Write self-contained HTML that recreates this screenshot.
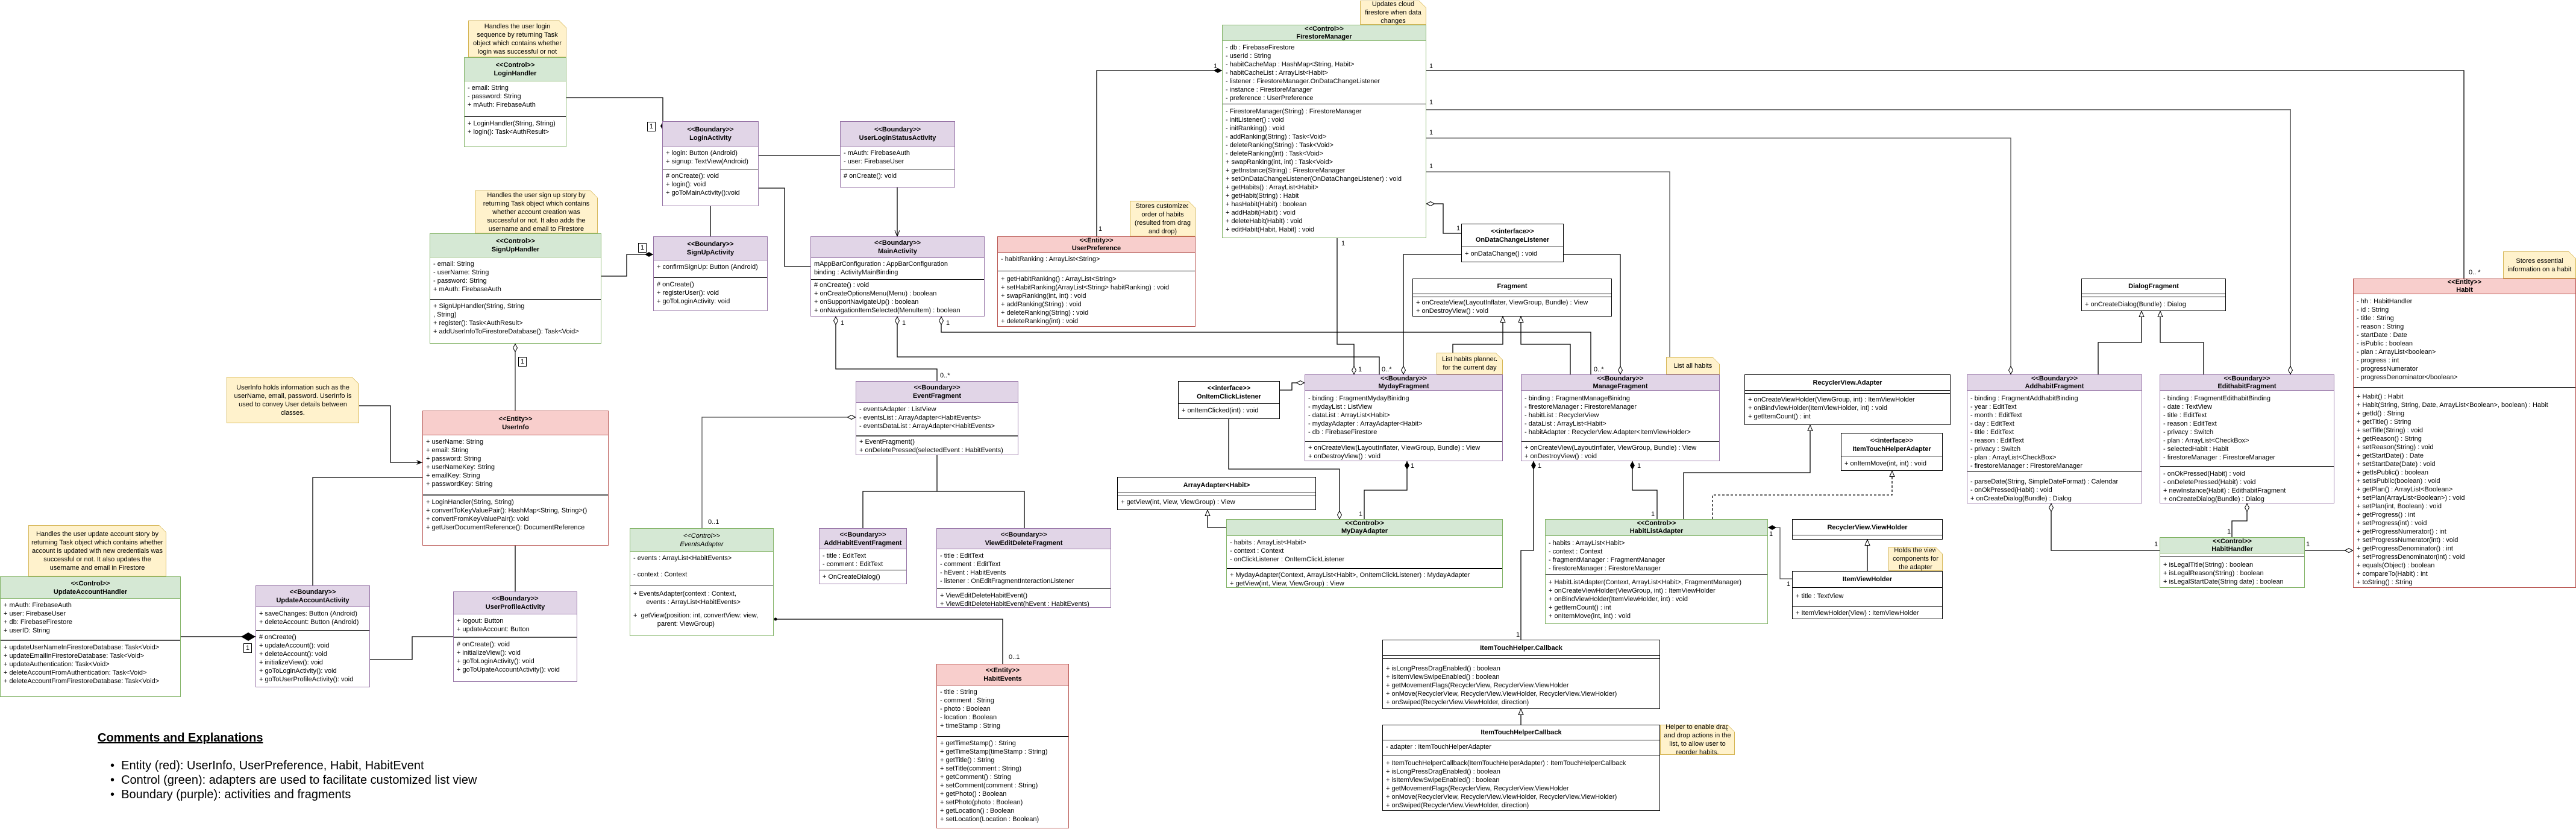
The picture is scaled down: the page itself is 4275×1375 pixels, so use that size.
<!DOCTYPE html>
<html><head><meta charset="utf-8">
<style>
html,body{margin:0;padding:0;background:#fff;}
#c{position:relative;width:4275px;height:1375px;overflow:hidden;font-family:"Liberation Sans",Arial,sans-serif;}
svg{position:absolute;left:0;top:0;}
.b{position:absolute;box-sizing:border-box;border:1px solid #000;background:#fff;font-size:11px;line-height:14px;overflow:hidden;display:flex;flex-direction:column;}
.h{box-sizing:border-box;text-align:center;font-weight:bold;display:flex;flex-direction:column;justify-content:center;border-bottom:1px solid #000;flex:none;line-height:14px;}
.s{box-sizing:border-box;padding:4px 5px 0;white-space:nowrap;flex:none;}
.s+.s{border-top:1px solid #000;}
.f{flex:1;}
.d{height:4px;padding:0;}
.P{border-color:#9673a6}.P .h{background:#e1d5e7;border-color:#9673a6}
.G{border-color:#82b366}.G .h{background:#d5e8d4;border-color:#82b366}
.R{border-color:#b85450}.R .h{background:#f8cecc;border-color:#b85450}
.n{position:absolute;box-sizing:border-box;background:#fff2cc;border:1px solid #d6b656;font-size:11px;line-height:14px;text-align:center;display:flex;align-items:center;justify-content:center;padding:0 2px;}
.n:after{content:"";position:absolute;right:-1px;top:-1px;width:12px;height:12px;background:linear-gradient(225deg,#fff 50%,#d6b656 50%,#fff2cc 56%);}
.l{position:absolute;font-size:11px;line-height:12px;}
.bx{position:absolute;font-size:11px;line-height:14px;border:1px solid #000;background:#fff;padding:0 3px;}
.i{font-style:italic}
</style></head><body><div id="c">
<svg width="4275" height="1375" viewBox="0 0 4275 1375">
<defs>
<marker id="df" markerUnits="userSpaceOnUse" markerWidth="16" markerHeight="10" refX="14" refY="4" orient="auto-start-reverse"><path d="M0,4 L7,0 L14,4 L7,8 Z" fill="#000"/></marker>
<marker id="dh" markerUnits="userSpaceOnUse" markerWidth="16" markerHeight="10" refX="14" refY="4" orient="auto-start-reverse"><path d="M0.5,4 L7,0.5 L13.5,4 L7,7.5 Z" fill="#fff" stroke="#000"/></marker>
<marker id="db" markerUnits="userSpaceOnUse" markerWidth="26" markerHeight="16" refX="24" refY="7" orient="auto-start-reverse"><path d="M0,7 L12,0 L24,7 L12,14 Z" fill="#000"/></marker>
<marker id="tr" markerUnits="userSpaceOnUse" markerWidth="12" markerHeight="10" refX="10" refY="4.5" orient="auto-start-reverse"><path d="M0.5,0.5 L10,4.5 L0.5,8.5 Z" fill="#fff" stroke="#000"/></marker>
<marker id="ar" markerUnits="userSpaceOnUse" markerWidth="12" markerHeight="10" refX="10" refY="4" orient="auto-start-reverse"><path d="M0,0 L10,4 L0,8 L3,4 Z" fill="#000"/></marker>
<marker id="op" markerUnits="userSpaceOnUse" markerWidth="12" markerHeight="10" refX="10" refY="4" orient="auto-start-reverse"><path d="M0,0 L10,4 L0,8" fill="none" stroke="#000"/></marker>
<marker id="dt" markerUnits="userSpaceOnUse" markerWidth="8" markerHeight="8" refX="3" refY="3" orient="auto"><circle cx="3" cy="3" r="2.5" fill="#000"/></marker>
</defs>
<g fill="none" stroke="#000" stroke-width="1.3">
<polyline points="940,162 1100,162 1100,216" marker-end="url(#df)"/>
<polyline points="1259,258 1394,258"/>
<polyline points="1259,312 1302,312 1302,442 1345,442"/>
<polyline points="1179,342 1179,392"/>
<polyline points="1489,311 1489,392" marker-end="url(#op)"/>
<polyline points="998,458 1040,458 1040,422 1084,422" marker-end="url(#df)"/>
<polyline points="855,570 855,681" marker-start="url(#dh)" stroke-width="1"/>
<polyline points="596,673 648,673 648,767 701,767" marker-end="url(#ar)"/>
<polyline points="701,792 519,792 519,971"/>
<polyline points="855,905 855,981"/>
<polyline points="300,1056 424,1056" marker-end="url(#db)" stroke="#555" stroke-width="2"/>
<polyline points="614,1094 684,1094 684,1056 752,1056"/>
<polyline points="1820,392 1820,117 2028,117" marker-end="url(#df)"/>
<polyline points="1387,525 1387,612 1555,612 1555,632" marker-start="url(#dh)"/>
<polyline points="1489,525 1489,592 2289,592 2289,621" marker-start="url(#dh)"/>
<polyline points="1562,525 1562,551 2640,551 2640,621" marker-start="url(#dh)"/>
<polyline points="1420,692 1165,692 1165,876" marker-start="url(#dh)" stroke="#555"/>
<polyline points="1555,755 1555,815"/>
<polyline points="1432,876 1432,815 1700,815 1700,876"/>
<polyline points="1287,1027 1664,1027 1664,1101" marker-start="url(#dt)"/>
<polyline points="2039,695 2039,778 2223,778 2223,861" marker-end="url(#dh)"/>
<polyline points="2124,647 2144,647 2144,635 2165,635" marker-end="url(#dh)"/>
<polyline points="2035,875 2004,875 2004,846" marker-end="url(#tr)"/>
<polyline points="2367,117 4089,117 4089,462"/>
<polyline points="2367,182 3801,182 3801,621" marker-end="url(#dh)" stroke="#777" stroke-width="2"/>
<polyline points="2367,229 3337,229 3337,621" marker-end="url(#dh)" stroke="#555"/>
<polyline points="2367,285 2771,285 2771,592" stroke="#555"/>
<polyline points="2367,338 2395,338 2395,387 2425,387" marker-start="url(#dh)"/>
<polyline points="2219,395 2219,571 2247,571 2247,621" marker-end="url(#dh)"/>
<polyline points="2425,422 2329,422 2329,621" marker-end="url(#dh)"/>
<polyline points="2595,422 2689,422 2689,621" marker-end="url(#dh)"/>
<polyline points="2411,621 2411,571 2494,571 2494,525" marker-end="url(#tr)"/>
<polyline points="2606,621 2606,571 2524,571 2524,525" marker-end="url(#tr)"/>
<polyline points="2335,765 2335,813 2264,813 2264,861" marker-start="url(#df)"/>
<polyline points="2545,765 2545,913 2524,913 2524,1061" marker-start="url(#df)"/>
<polyline points="2709,765 2709,813 2750,813 2750,861" marker-start="url(#df)"/>
<polyline points="2794,861 2794,784 3004,784 3004,705" marker-end="url(#tr)"/>
<polyline points="2842,861 2842,821 3140,821 3140,781" marker-end="url(#tr)" stroke-dasharray="4,3"/>
<polyline points="2934,875 2954,875 2954,960 2974,960" marker-start="url(#df)" stroke="#555"/>
<polyline points="3099,947 3099,895" marker-end="url(#tr)"/>
<polyline points="2524,1202 2524,1176" marker-end="url(#tr)"/>
<polyline points="3482,621 3482,568 3554,568 3554,516" marker-end="url(#tr)"/>
<polyline points="3657,621 3657,568 3585,568 3585,516" marker-end="url(#tr)"/>
<polyline points="3404,835 3404,913 3584,913" marker-start="url(#dh)"/>
<polyline points="3729,835 3729,864 3704,864 3704,891" marker-start="url(#dh)"/>
<polyline points="3825,913 3905,913" marker-end="url(#dh)"/>
</g>
</svg>

<!-- labels -->
<div class="bx" style="left:1074px;top:202px">1</div>
<div class="bx" style="left:1059px;top:403px">1</div>
<div class="bx" style="left:860px;top:592px">1</div>
<div class="bx" style="left:404px;top:1067px">1</div>
<div class="l" style="left:1823px;top:374px">1</div>
<div class="l" style="left:2014px;top:104px">1</div>
<div class="l" style="left:1395px;top:530px">1</div>
<div class="l" style="left:1497px;top:530px">1</div>
<div class="l" style="left:1570px;top:530px">1</div>
<div class="l" style="left:1560px;top:617px">0..*</div>
<div class="l" style="left:1175px;top:860px">0..1</div>
<div class="l" style="left:1674px;top:1084px">0..1</div>
<div class="l" style="left:2372px;top:104px">1</div>
<div class="l" style="left:2372px;top:164px">1</div>
<div class="l" style="left:2372px;top:214px">1</div>
<div class="l" style="left:2372px;top:270px">1</div>
<div class="l" style="left:2417px;top:373px">1</div>
<div class="l" style="left:2226px;top:398px">1</div>
<div class="l" style="left:2254px;top:607px">1</div>
<div class="l" style="left:2293px;top:607px">0..*</div>
<div class="l" style="left:2645px;top:607px">0..*</div>
<div class="l" style="left:4097px;top:446px">0.. *</div>
<div class="l" style="left:2341px;top:767px">1</div>
<div class="l" style="left:2255px;top:847px">1</div>
<div class="l" style="left:2552px;top:767px">1</div>
<div class="l" style="left:2516px;top:1047px">1</div>
<div class="l" style="left:2717px;top:767px">1</div>
<div class="l" style="left:2740px;top:847px">1</div>
<div class="l" style="left:2936px;top:880px">1</div>
<div class="l" style="left:2965px;top:963px">1</div>
<div class="l" style="left:3575px;top:897px">1</div>
<div class="l" style="left:3827px;top:897px">1</div>
<div class="l" style="left:3696px;top:876px">1</div>

<!-- notes -->
<div class="n" style="left:777px;top:34px;width:163px;height:61px">Handles the user login sequence by returning Task object which contains whether login was successful or not</div>
<div class="n" style="left:788px;top:316px;width:204px;height:71px">Handles the user sign up story by returning Task object which contains whether account creation was successful or not. It also adds the username and email to Firestore</div>
<div class="n" style="left:376px;top:625px;width:220px;height:77px">UserInfo holds information such as the userName, email, password. UserInfo is used to convey User details between classes.</div>
<div class="n" style="left:47px;top:871px;width:229px;height:85px">Handles the user update account story by returning Task object which contains whether account is updated with new credentials was successful or not. It also updates the username and email in Firestore</div>
<div class="n" style="left:1875px;top:333px;width:109px;height:59px">Stores customized order of habits (resulted from drag and drop)</div>
<div class="n" style="left:2257px;top:1px;width:110px;height:40px">Updates cloud firestore when data changes</div>
<div class="n" style="left:2384px;top:585px;width:110px;height:36px">List habits planned for the current day</div>
<div class="n" style="left:2765px;top:592px;width:89px;height:29px">List all habits</div>
<div class="n" style="left:3134px;top:907px;width:90px;height:40px">Holds the view components for the adapter</div>
<div class="n" style="left:2755px;top:1202px;width:124px;height:50px">Helper to enable drag and drop actions in the list, to allow user to reorder habits.</div>
<div class="n" style="left:4154px;top:417px;width:121px;height:45px">Stores essential information on a habit</div>

<!-- boxes -->
<div class="b G" style="left:770px;top:95px;width:170px;height:149px"><div class="h" style="height:39px">&lt;&lt;Control&gt;&gt;<br>LoginHandler</div><div class="s" style="height:58px">- email: String<br>- password: String<br>+ mAuth: FirebaseAuth</div><div class="s f">+ LoginHandler(String, String)<br>+ login(): Task&lt;AuthResult&gt;</div></div>

<div class="b G" style="left:713px;top:387px;width:285px;height:183px"><div class="h" style="height:39px">&lt;&lt;Control&gt;&gt;<br>SignUpHandler</div><div class="s" style="height:69px">- email: String<br>- userName: String<br>- password: String<br>+ mAuth: FirebaseAuth</div><div class="s f">+ SignUpHandler(String, String<br>, String)<br>+ register(): Task&lt;AuthResult&gt;<br>+ addUserInfoToFirestoreDatabase(): Task&lt;Void&gt;</div></div>

<div class="b R" style="left:701px;top:681px;width:309px;height:224px"><div class="h" style="height:40px">&lt;&lt;Entity&gt;&gt;<br>UserInfo</div><div class="s" style="height:98px">+ userName: String<br>+ email: String<br>+ password: String<br>+ userNameKey: String<br>+ emailKey: String<br>+ passwordKey: String</div><div class="s f" style="border-top-width:2px;border-top-color:#555">+ LoginHandler(String, String)<br>+ convertToKeyValuePair(): HashMap&lt;String, String&gt;()<br>+ convertFromKeyValuePair(): void<br>+ getUserDocumentReference(): DocumentReference</div></div>

<div class="b G" style="left:0px;top:956px;width:300px;height:200px"><div class="h" style="height:36px">&lt;&lt;Control&gt;&gt;<br>UpdateAccountHandler</div><div class="s" style="height:68px">+ mAuth: FirebaseAuth<br>+ user: FirebaseUser<br>+ db: FirebaseFirestore<br>+ userID: String</div><div class="s f" style="border-top-width:2px;border-top-color:#555">+ updateUserNameInFirestoreDatabase: Task&lt;Void&gt;<br>+ updateEmailInFirestoreDatabase: Task&lt;Void&gt;<br>+ updateAuthentication: Task&lt;Void&gt;<br>+ deleteAccountFromAuthentication: Task&lt;Void&gt;<br>+ deleteAccountFromFirestoreDatabase: Task&lt;Void&gt;</div></div>

<div class="b P" style="left:424px;top:971px;width:190px;height:169px"><div class="h" style="height:35px">&lt;&lt;Boundary&gt;&gt;<br>UpdateAccountActivity</div><div class="s" style="height:38px">+ saveChanges: Button (Android)<br>+ deleteAccount: Button (Android)</div><div class="s f"># onCreate()<br>+ updateAccount(): void<br>+ deleteAccount(): void<br>+ initializeView(): void<br>+ goToLoginActivity(): void<br>+ goToUserProfileActivity(): void</div></div>

<div class="b P" style="left:752px;top:981px;width:206px;height:150px"><div class="h" style="height:37px">&lt;&lt;Boundary&gt;&gt;<br>UserProfileActivity</div><div class="s" style="height:37px">+ logout: Button<br>+ updateAccount: Button</div><div class="s f" style="border-top-width:2px;border-top-color:#555"># onCreate(): void<br>+ initializeView(): void<br>+ goToLoginActivity(): void<br>+ goToUpateAccountActivity(): void</div></div>

<div class="b P" style="left:1099px;top:201px;width:160px;height:141px"><div class="h" style="height:41px">&lt;&lt;Boundary&gt;&gt;<br>LoginActivity</div><div class="s" style="height:37px">+ login: Button (Android)<br>+ signup: TextView(Android)</div><div class="s f"># onCreate(): void<br>+ login(): void<br>+ goToMainActivity():void</div></div>

<div class="b P" style="left:1394px;top:201px;width:191px;height:110px"><div class="h" style="height:41px">&lt;&lt;Boundary&gt;&gt;<br>UserLoginStatusActivity</div><div class="s" style="height:37px">- mAuth: FirebaseAuth<br>- user: FirebaseUser</div><div class="s f"># onCreate(): void</div></div>

<div class="b P" style="left:1084px;top:392px;width:190px;height:124px"><div class="h" style="height:39px">&lt;&lt;Boundary&gt;&gt;<br>SignUpActivity</div><div class="s" style="height:28px">+ confirmSignUp: Button (Android)</div><div class="s f"># onCreate()<br>+ registerUser(): void<br>+ goToLoginActivity: void</div></div>

<div class="b P" style="left:1345px;top:392px;width:289px;height:133px"><div class="h" style="height:35px">&lt;&lt;Boundary&gt;&gt;<br>MainActivity</div><div class="s" style="height:35px;padding-top:3px">mAppBarConfiguration : AppBarConfiguration<br>binding : ActivityMainBinding</div><div class="s f" style="padding-top:2px"># onCreate() : void<br>+ onCreateOptionsMenu(Menu) : boolean<br>+ onSupportNavigateUp() : boolean<br>+ onNavigationItemSelected(MenuItem) : boolean</div></div>

<div class="b R" style="left:1655px;top:392px;width:329px;height:150px"><div class="h" style="height:26px;line-height:13px">&lt;&lt;Entity&gt;&gt;<br>UserPreference</div><div class="s" style="height:30px">- habitRanking : ArrayList&lt;String&gt;</div><div class="s f" style="padding-top:6px">+ getHabitRanking() : ArrayList&lt;String&gt;<br>+ setHabitRanking(ArrayList&lt;String&gt; habitRanking) : void<br>+ swapRanking(int, int) : void<br>+ addRanking(String) : void<br>+ deleteRanking(String) : void<br>+ deleteRanking(int) : void</div></div>

<div class="b G" style="left:2028px;top:41px;width:339px;height:354px"><div class="h" style="height:26px;line-height:13px">&lt;&lt;Control&gt;&gt;<br>FirestoreManager</div><div class="s" style="height:104px">- db : FirebaseFirestore<br>- userId : String<br>- habitCacheMap : HashMap&lt;String, Habit&gt;<br>- habitCacheList : ArrayList&lt;Habit&gt;<br>- listener : FirestoreManager.OnDataChangeListener<br>- instance : FirestoreManager<br>- preference : UserPreference</div><div class="s f" style="padding-top:5px">- FirestoreManager(String) : FirestoreManager<br>- initListener() : void<br>- initRanking() : void<br>- addRanking(String) : Task&lt;Void&gt;<br>- deleteRanking(String) : Task&lt;Void&gt;<br>- deleteRanking(int) : Task&lt;Void&gt;<br>+ swapRanking(int, int) : Task&lt;Void&gt;<br>+ getInstance(String) : FirestoreManager<br>+ setOnDataChangeListener(OnDataChangeListener) : void<br>+ getHabits() : ArrayList&lt;Habit&gt;<br>+ getHabit(String) : Habit<br>+ hasHabit(Habit) : boolean<br>+ addHabit(Habit) : void<br>+ deleteHabit(Habit) : void<br>+ editHabit(Habit, Habit) : void</div></div>

<div class="b P" style="left:1420px;top:632px;width:270px;height:123px"><div class="h" style="height:35px">&lt;&lt;Boundary&gt;&gt;<br>EventFragment</div><div class="s" style="height:54px">- eventsAdapter : ListView<br>- eventsList : ArrayAdapter&lt;HabitEvents&gt;<br>- eventsDataList : ArrayAdapter&lt;HabitEvents&gt;</div><div class="s f" style="border-top-width:2px;border-top-color:#555;padding-top:2px">+ EventFragment()<br>+ onDeletePressed(selectedEvent : HabitEvents)</div></div>

<div class="b G" style="left:1045px;top:876px;width:239px;height:179px"><div class="h i" style="height:38px;font-weight:normal">&lt;&lt;Control&gt;&gt;<br>EventsAdapter</div><div class="s" style="height:55px">- events : ArrayList&lt;HabitEvents&gt;<br><div style="height:13px"></div>- context : Context</div><div class="s f" style="padding-top:7px">+ EventsAdapter(context : Context,<br>&nbsp;&nbsp;&nbsp;&nbsp;&nbsp;&nbsp;&nbsp;events : ArrayList&lt;HabitEvents&gt;<br><div style="height:8px"></div>+&nbsp; getView(position: int, convertView: view,<br>&nbsp;&nbsp;&nbsp;&nbsp;&nbsp;&nbsp;&nbsp;&nbsp;&nbsp;&nbsp;&nbsp;&nbsp;&nbsp;parent: ViewGroup)</div></div>

<div class="b P" style="left:1359px;top:876px;width:146px;height:93px"><div class="h" style="height:34px">&lt;&lt;Boundary&gt;&gt;<br>AddHabitEventFragment</div><div class="s" style="height:34px">- title : EditText<br>- comment : EditText</div><div class="s f">+ OnCreateDialog()</div></div>

<div class="b P" style="left:1554px;top:876px;width:290px;height:132px"><div class="h" style="height:34px">&lt;&lt;Boundary&gt;&gt;<br>ViewEditDeleteFragment</div><div class="s" style="height:65px">- title : EditText<br>- comment : EditText<br>- hEvent : HabitEvents<br>- listener : OnEditFragmentInteractionListener</div><div class="s f">+ ViewEditDeleteHabitEvent()<br>+ ViewEditDeleteHabitEvent(hEvent : HabitEvents)</div></div>

<div class="b R" style="left:1554px;top:1101px;width:220px;height:273px"><div class="h" style="height:35px">&lt;&lt;Entity&gt;&gt;<br>HabitEvents</div><div class="s" style="height:84px">- title : String<br>- comment : String<br>- photo : Boolean<br>- location : Boolean<br>+ timeStamp : String</div><div class="s f">+ getTimeStamp() : String<br>+ getTimeStamp(timeStamp : String)<br>+ getTitle() : String<br>+ setTitle(comment : String)<br>+ getComment() : String<br>+ setComment(comment : String)<br>+ getPhoto() : Boolean<br>+ setPhoto(photo : Boolean)<br>+ getLocation() : Boolean<br>+ setLocation(Location : Boolean)</div></div>

<div class="b" style="left:1955px;top:632px;width:169px;height:63px"><div class="h" style="height:37px">&lt;&lt;interface&gt;&gt;<br>OnItemClickListener</div><div class="s f">+ onItemClicked(int) : void</div></div>

<div class="b" style="left:1854px;top:791px;width:330px;height:55px"><div class="h" style="height:26px">ArrayAdapter&lt;Habit&gt;</div><div class="s d"></div><div class="s f" style="padding-top:3px">+ getView(int, View, ViewGroup) : View</div></div>

<div class="b G" style="left:2035px;top:861px;width:459px;height:114px"><div class="h" style="height:27px;line-height:13px">&lt;&lt;Control&gt;&gt;<br>MyDayAdapter</div><div class="s" style="height:53px">- habits : ArrayList&lt;Habit&gt;<br>- context : Context<br>- onClickListener : OnItemClickListener</div><div class="s f" style="border-top-width:2px;padding-top:3px">+ MydayAdapter(Context, ArrayList&lt;Habit&gt;, OnItemClickListener) : MydayAdapter<br>+ getView(int, View, ViewGroup) : View</div></div>

<div class="b" style="left:2425px;top:371px;width:170px;height:64px"><div class="h" style="height:38px">&lt;&lt;interface&gt;&gt;<br>OnDataChangeListener</div><div class="s f">+ onDataChange() : void</div></div>

<div class="b" style="left:2344px;top:462px;width:331px;height:63px"><div class="h" style="height:25px">Fragment</div><div class="s d"></div><div class="s f" style="padding-top:2px">+ onCreateView(LayoutInflater, ViewGroup, Bundle) : View<br>+ onDestroyView() : void</div></div>

<div class="b P" style="left:2165px;top:621px;width:329px;height:144px"><div class="h" style="height:26px;line-height:13px">&lt;&lt;Boundary&gt;&gt;<br>MydayFragment</div><div class="s" style="height:84px;padding-top:6px">- binding : FragmentMydayBinidng<br>- mydayList : ListView<br>- dataList : ArrayList&lt;Habit&gt;<br>- mydayAdapter : ArrayAdapter&lt;Habit&gt;<br>- db : FirebaseFirestore</div><div class="s f" style="padding-top:3px">+ onCreateView(LayoutInflater, ViewGroup, Bundle) : View<br>+ onDestroyView() : void</div></div>

<div class="b P" style="left:2524px;top:621px;width:330px;height:144px"><div class="h" style="height:26px;line-height:13px">&lt;&lt;Boundary&gt;&gt;<br>ManageFragment</div><div class="s" style="height:84px;padding-top:6px">- binding : FragmentManageBinidng<br>- firestoreManager : FirestoreManager<br>- habitList : RecyclerView<br>- dataList : ArrayList&lt;Habit&gt;<br>- habitAdapter : RecyclerView.Adapter&lt;ItemViewHolder&gt;</div><div class="s f" style="padding-top:3px">+ onCreateView(LayoutInflater, ViewGroup, Bundle) : View<br>+ onDestroyView() : void</div></div>

<div class="b" style="left:2895px;top:621px;width:342px;height:84px"><div class="h" style="height:26px">RecyclerView.Adapter</div><div class="s d"></div><div class="s f" style="padding-top:3px">+ onCreateViewHolder(ViewGroup, int) : ItemViewHolder<br>+ onBindViewHolder(ItemViewHolder, int) : void<br>+ getItemCount() : int</div></div>

<div class="b" style="left:3055px;top:718px;width:169px;height:63px"><div class="h" style="height:38px">&lt;&lt;interface&gt;&gt;<br>ItemTouchHelperAdapter</div><div class="s f" style="padding-top:5px">+ onItemMove(int, int) : void</div></div>

<div class="b" style="left:2974px;top:861px;width:250px;height:34px"><div class="h" style="height:26px">RecyclerView.ViewHolder</div><div class="s d"></div></div>

<div class="b" style="left:2974px;top:947px;width:250px;height:80px"><div class="h" style="height:27px">ItemViewHolder</div><div class="s" style="height:30px;padding-top:7px">+ title : TextView</div><div class="s f" style="padding-top:4px">+ ItemViewHolder(View) : ItemViewHolder</div></div>

<div class="b G" style="left:2564px;top:861px;width:370px;height:174px"><div class="h" style="height:27px;line-height:13px">&lt;&lt;Control&gt;&gt;<br>HabitListAdapter</div><div class="s" style="height:63px;padding-top:5px">- habits : ArrayList&lt;Habit&gt;<br>- context : Context<br>- fragmentManager : FragmentManager<br>- firestoreManager : FirestoreManager</div><div class="s f" style="padding-top:6px">+ HabitListAdapter(Context, ArrayList&lt;Habit&gt;, FragmentManager)<br>+ onCreateViewHolder(ViewGroup, int) : ItemViewHolder<br>+ onBindViewHolder(ItemViewHolder, int) : void<br>+ getItemCount() : int<br>+ onItemMove(int, int) : void</div></div>

<div class="b" style="left:2294px;top:1061px;width:461px;height:115px"><div class="h" style="height:26px">ItemTouchHelper.Callback</div><div class="s d"></div><div class="s f" style="padding-top:9px">+ isLongPressDragEnabled() : boolean<br>+ isItemViewSwipeEnabled() : boolean<br>+ getMovementFlags(RecyclerView, RecyclerView.ViewHolder<br>+ onMove(RecyclerView, RecyclerView.ViewHolder, RecyclerView.ViewHolder)<br>+ onSwiped(RecyclerView.ViewHolder, direction)</div></div>

<div class="b" style="left:2294px;top:1202px;width:461px;height:143px"><div class="h" style="height:25px">ItemTouchHelperCallback</div><div class="s" style="height:24px;padding-top:4px">- adapter : ItemTouchHelperAdapter</div><div class="s f" style="padding-top:6px">+ ItemTouchHelperCallback(ItemTouchHelperAdapter) : ItemTouchHelperCallback<br>+ isLongPressDragEnabled() : boolean<br>+ isItemViewSwipeEnabled() : boolean<br>+ getMovementFlags(RecyclerView, RecyclerView.ViewHolder<br>+ onMove(RecyclerView, RecyclerView.ViewHolder, RecyclerView.ViewHolder)<br>+ onSwiped(RecyclerView.ViewHolder, direction)</div></div>

<div class="b" style="left:3454px;top:462px;width:240px;height:54px"><div class="h" style="height:25px">DialogFragment</div><div class="s d"></div><div class="s f" style="padding-top:5px">+ onCreateDialog(Bundle) : Dialog</div></div>

<div class="b P" style="left:3264px;top:621px;width:291px;height:214px"><div class="h" style="height:26px;line-height:13px">&lt;&lt;Boundary&gt;&gt;<br>AddhabitFragment</div><div class="s" style="height:134px;padding-top:6px">- binding : FragmentAddhabitBinding<br>- year : EditText<br>- month : EditText<br>- day : EditText<br>- title : EditText<br>- reason : EditText<br>- privacy : Switch<br>- plan : ArrayList&lt;CheckBox&gt;<br>- firestoreManager : FirestoreManager</div><div class="s f" style="padding-top:9px">- parseDate(String, SimpleDateFormat) : Calendar<br>- onOkPressed(Habit) : void<br>+ onCreateDialog(Bundle) : Dialog</div></div>

<div class="b P" style="left:3584px;top:621px;width:290px;height:214px"><div class="h" style="height:26px;line-height:13px">&lt;&lt;Boundary&gt;&gt;<br>EdithabitFragment</div><div class="s" style="height:125px;padding-top:6px">- binding : FragmentEdithabitBinding<br>- date : TextView<br>- title : EditText<br>- reason : EditText<br>- privacy : Switch<br>- plan : ArrayList&lt;CheckBox&gt;<br>- selectedHabit : Habit<br>- firestoreManager : FirestoreManager</div><div class="s f" style="padding-top:5px">- onOkPressed(Habit) : void<br>- onDeletePressed(Habit) : void<br>+ newInstance(Habit) : EdithabitFragment<br>+ onCreateDialog(Bundle) : Dialog</div></div>

<div class="b G" style="left:3584px;top:891px;width:241px;height:84px"><div class="h" style="height:26px;line-height:13px">&lt;&lt;Control&gt;&gt;<br>HabitHandler</div><div class="s d"></div><div class="s f" style="padding-top:7px">+ isLegalTitle(String) : boolean<br>+ isLegalReason(String) : boolean<br>+ isLegalStartDate(String date) : boolean</div></div>

<div class="b R" style="left:3905px;top:462px;width:370px;height:513px"><div class="h" style="height:25px;line-height:13px">&lt;&lt;Entity&gt;&gt;<br>Habit</div><div class="s" style="height:154px;padding-top:5px">- hh : HabitHandler<br>- id : String<br>- title : String<br>- reason : String<br>- startDate : Date<br>- isPublic : boolean<br>- plan : ArrayList&lt;boolean&gt;<br>- progress : int<br>- progressNumerator<br>- progressDenominator&lt;/boolean&gt;</div><div class="s f" style="padding-top:8px">+ Habit() : Habit<br>+ Habit(String, String, Date, ArrayList&lt;Boolean&gt;, boolean) : Habit<br>+ getId() : String<br>+ getTitle() : String<br>+ setTitle(String) : void<br>+ getReason() : String<br>+ setReason(String) : void<br>+ getStartDate() : Date<br>+ setStartDate(Date) : void<br>+ getIsPublic() : boolean<br>+ setIsPublic(boolean) : void<br>+ getPlan() : ArrayList&lt;Boolean&gt;<br>+ setPlan(ArrayList&lt;Boolean&gt;) : void<br>+ setPlan(int, Boolean) : void<br>+ getProgress() : int<br>+ setProgress(int) : void<br>+ getProgressNumerator() : int<br>+ setProgressNumerator(int) : void<br>+ getProgressDenominator() : int<br>+ setProgressDenominator(int) : void<br>+ equals(Object) : boolean<br>+ compareTo(Habit) : int<br>+ toString() : String</div></div>

<!-- comments -->
<div style="position:absolute;left:162px;top:1212px;font-size:20px;font-weight:bold;text-decoration:underline;line-height:24px">Comments and Explanations</div>
<div style="position:absolute;left:183px;top:1258px;font-size:20px;line-height:24px;white-space:nowrap">
<div>•&nbsp;&nbsp;Entity (red): UserInfo, UserPreference, Habit, HabitEvent</div>
<div>•&nbsp;&nbsp;Control (green): adapters are used to facilitate customized list view</div>
<div>•&nbsp;&nbsp;Boundary (purple): activities and fragments</div>
</div>
</div></body></html>
